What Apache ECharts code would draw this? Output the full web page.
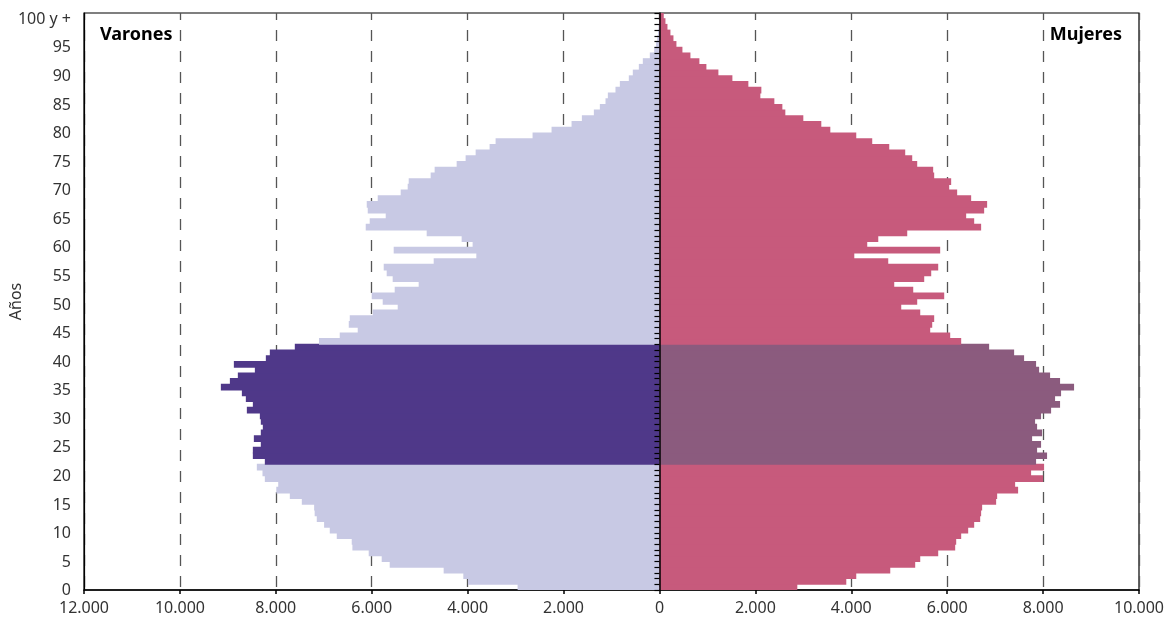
<!DOCTYPE html>
<html><head><meta charset="utf-8">
<script src="https://cdn.jsdelivr.net/npm/echarts@6/dist/echarts.min.js"></script>
<style>html,body{margin:0;padding:0;background:#fff}#c{width:1169px;height:629px}</style>
</head><body><div id="c"></div>
<script>
// Age categories 0 .. 100 (100 = "100 y +")
const ages = ['0','1','2','3','4','5','6','7','8','9','10','11','12','13','14','15','16','17','18','19',
  '20','21','22','23','24','25','26','27','28','29','30','31','32','33','34','35','36','37','38','39',
  '40','41','42','43','44','45','46','47','48','49','50','51','52','53','54','55','56','57','58','59',
  '60','61','62','63','64','65','66','67','68','69','70','71','72','73','74','75','76','77','78','79',
  '80','81','82','83','84','85','86','87','88','89','90','91','92','93','94','95','96','97','98','99','100'];

// Varones (men), age 0 .. 100
const men = [2958,3993,4090,4500,5625,5792,6063,6403,6417,6729,
  6875,6993,7146,7190,7201,7458,7708,7990,7950,8229,
  8278,8396,8229,8479,8479,8313,8458,8313,8271,8313,
  8333,8604,8479,8625,8708,9146,8958,8792,8437,8875,
  8208,8125,7604,7100,6667,6292,6479,6458,5979,5458,
  5771,6000,5521,5021,5563,5688,5750,4708,3819,5542,
  3896,4125,4854,6125,6042,5708,6083,6104,5875,5396,
  5250,5229,4771,4688,4229,4042,3833,3542,3417,2646,
  2250,1833,1618,1368,1243,1125,1076,917,826,639,
  556,430,347,201,110,70,45,30,20,10,10];

// Mujeres (women), age 0 .. 100
const women = [2875,3896,4104,4813,5333,5438,5813,6167,6188,6292,
  6438,6563,6688,6708,6729,7021,7042,7479,7417,8000,
  7750,8021,7854,8083,7875,7958,7771,7979,7875,7833,
  7958,8167,8354,8250,8375,8646,8354,8146,7917,7854,
  7604,7396,6875,6292,6063,5646,5688,5729,5438,5042,
  5375,5938,5292,4896,5521,5667,5813,4771,4063,5854,
  4333,4563,5167,6708,6563,6396,6771,6833,6500,6208,
  6042,6083,5729,5708,5375,5271,5125,4792,4437,4104,
  3563,3375,3000,2625,2563,2396,2104,2125,1854,1521,
  1229,979,833,646,479,354,292,229,167,125,90];

// Highlighted age range
const highlightFrom = 22, highlightTo = 42;

const xTicks = { min: -12000, max: 10000, step: 2000 };

const C = {
  menLight: '#C8C9E4', menDark: '#4F3889',
  womenLight: '#C75A7C', womenDark: '#8B5B7E'
};
const FONT = 'Noto Sans';
const inHL = i => i >= highlightFrom && i <= highlightTo;
const fmt = v => Math.abs(v).toString().replace(/\B(?=(\d{3})+(?!\d))/g, '.');

const chart = echarts.init(document.getElementById('c'), null, {renderer: 'canvas'});
chart.setOption({
  animation: false,
  backgroundColor: '#fff',
  grid: { left: 84, right: 30, top: 13, bottom: 39, show: true, borderColor: '#000', borderWidth: 1.2,
          containLabel: false, outerBoundsMode: 'none' },
  xAxis: {
    type: 'value', min: xTicks.min, max: xTicks.max, interval: xTicks.step,
    axisLine: { show: true, lineStyle: { color: '#000', width: 1.5 } },
    axisTick: { show: true, length: 4, lineStyle: { color: '#000', width: 1.5 } },
    axisLabel: { formatter: fmt, color: '#333', fontFamily: FONT, fontSize: 16, margin: 10 },
    splitLine: { show: true, lineStyle: { color: '#555', width: 1.3, type: [11, 10], dashOffset: 4 } }
  },
  yAxis: [
    {
      type: 'category', data: ages, position: 'left',
      axisLine: { show: true, onZero: false, lineStyle: { color: '#000', width: 1.2 } },
      axisTick: { show: false },
      axisLabel: {
        interval: (i) => i % 5 === 0,
        formatter: (v) => v === '100' ? '100 y +' : v,
        color: '#333', fontFamily: FONT, fontSize: 16, margin: 13,
        verticalAlign: 'top', lineHeight: 7
      },
      name: 'Años', nameLocation: 'middle', nameGap: 60, nameRotate: 90, nameMoveOverlap: false,
      nameTextStyle: { color: '#333', fontFamily: FONT, fontSize: 16 },
      splitLine: { show: false }
    },
    {
      type: 'category', data: ages, position: 'left', z: 10,
      axisLine: { show: true, onZero: true, lineStyle: { color: '#000', width: 1.5 } },
      axisTick: { show: true, interval: 0, length: 5, lineStyle: { color: '#000', width: 1.2 } },
      axisLabel: { show: false },
      splitLine: { show: false }
    }
  ],
  series: [
    {
      name: 'Varones', type: 'bar', yAxisIndex: 0, barWidth: '118%', barGap: '-100%',
      data: men.map((v, i) => ({ value: -v, itemStyle: { color: inHL(i) ? C.menDark : C.menLight } }))
    },
    {
      name: 'Mujeres', type: 'bar', yAxisIndex: 0, barWidth: '118%', barGap: '-100%',
      data: women.map((v, i) => ({ value: v, itemStyle: { color: inHL(i) ? C.womenDark : C.womenLight } }))
    }
  ],
  graphic: [
    { type: 'text', left: 100, top: 26, style: { text: 'Varones', fontFamily: FONT, fontWeight: 'bold', fontSize: 18, fill: '#000' } },
    { type: 'text', right: 47, top: 26, style: { text: 'Mujeres', fontFamily: FONT, fontWeight: 'bold', fontSize: 18, fill: '#000' } }
  ]
});
</script>
</body></html>
